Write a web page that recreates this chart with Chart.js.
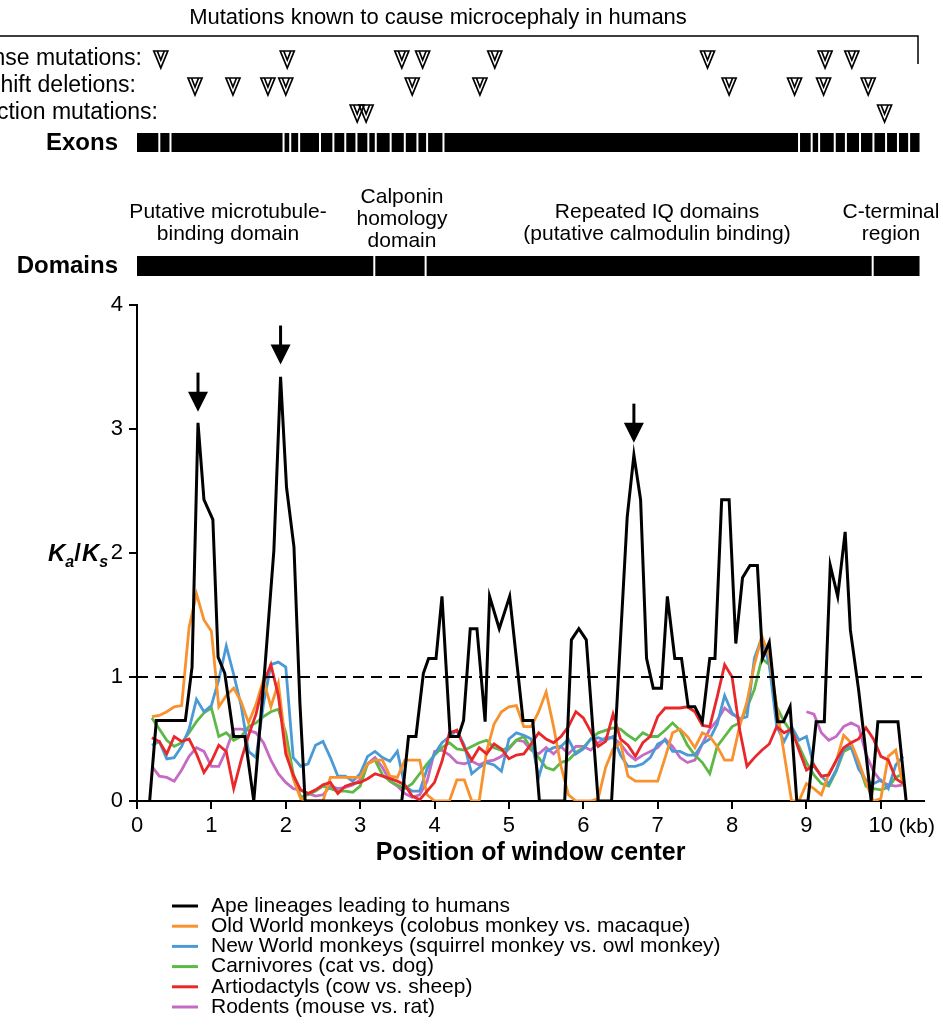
<!DOCTYPE html>
<html>
<head>
<meta charset="utf-8">
<script src="https://cdn.jsdelivr.net/npm/chart.js@4.4.1/dist/chart.umd.min.js"></script>
<style>
  html, body { margin: 0; padding: 0; background: #fff; }
</style>
</head>
<body>
<canvas id="kaks-canvas" width="943" height="1027"></canvas>
<script>
const FONT = '"Liberation Sans", Arial, Helvetica, sans-serif';

// window centres (kb) for the five comparison lineages
const windowCenters = [0.2, 0.3, 0.4, 0.5, 0.6, 0.7, 0.8, 0.9, 1.0,
    1.1, 1.2, 1.3, 1.4, 1.5, 1.6, 1.7, 1.8, 1.9, 2.0,
    2.1, 2.2, 2.3, 2.4, 2.5, 2.6, 2.7, 2.8, 2.9, 3.0,
    3.1, 3.2, 3.3, 3.4, 3.5, 3.6, 3.7, 3.8, 3.9, 4.0,
    4.1, 4.2, 4.3, 4.4, 4.5, 4.6, 4.7, 4.8, 4.9, 5.0,
    5.1, 5.2, 5.3, 5.4, 5.5, 5.6, 5.7, 5.8, 5.9, 6.0,
    6.1, 6.2, 6.3, 6.4, 6.5, 6.6, 6.7, 6.8, 6.9, 7.0,
    7.1, 7.2, 7.3, 7.4, 7.5, 7.6, 7.7, 7.8, 7.9, 8.0,
    8.1, 8.2, 8.3, 8.4, 8.5, 8.6, 8.7, 8.8, 8.9, 9.0,
    9.1, 9.2, 9.3, 9.4, 9.5, 9.6, 9.7, 9.8, 9.9, 10.0,
    10.1, 10.2, 10.3];

const oldWorldKaKs = [0.68, 0.69, 0.72, 0.76, 0.77, 1.40, 1.67, 1.46, 1.37,
    0.76, 0.85, 0.91, 0.80, 0.63, 0.78, 0.98, 0.76, 0.95, 0.45,
    0.18, 0.02, 0.00, 0.00, 0.00, 0.19, 0.19, 0.19, 0.19, 0.19,
    0.30, 0.33, 0.33, 0.20, 0.19, 0.33, 0.33, 0.33, 0.05, 0.00,
    0.00, 0.00, 0.17, 0.17, 0.00, 0.00, 0.40, 0.62, 0.72, 0.76,
    0.77, 0.60, 0.60, 0.72, 0.88, 0.60, 0.28, 0.05, 0.00, 0.00,
    0.00, 0.02, 0.27, 0.42, 0.47, 0.20, 0.16, 0.16, 0.16, 0.16,
    0.35, 0.55, 0.58, 0.52, 0.43, 0.55, 0.52, 0.44, 0.33, 0.33,
    0.60, 0.80, 1.10, 1.33, 1.17, 0.76, 0.38, 0.00, 0.00, 0.14,
    0.10, 0.05, 0.22, 0.32, 0.53, 0.47, 0.32, 0.15, 0.00, 0.02,
    0.36, 0.41, 0.12];

const newWorldKaKs = [0.45, 0.48, 0.34, 0.35, 0.44, 0.58, 0.82, 0.72, 0.77,
    0.98, 1.25, 1.02, 0.77, 0.40, 0.35, 0.78, 1.10, 1.12, 1.08,
    0.35, 0.28, 0.30, 0.45, 0.48, 0.35, 0.20, 0.20, 0.16, 0.22,
    0.36, 0.40, 0.35, 0.32, 0.40, 0.12, 0.08, 0.08, 0.26, 0.38,
    0.47, 0.52, 0.57, 0.45, 0.22, 0.27, 0.31, 0.29, 0.24, 0.50,
    0.55, 0.53, 0.50, 0.19, 0.40, 0.43, 0.44, 0.50, 0.38, 0.42,
    0.50, 0.51, 0.49, 0.52, 0.37, 0.28, 0.28, 0.30, 0.35, 0.46,
    0.49, 0.40, 0.40, 0.37, 0.37, 0.46, 0.50, 0.62, 0.85, 0.71,
    0.66, 0.68, 1.15, 1.32, 1.10, 0.60, 0.48, 0.60, 0.49, 0.52,
    0.28, 0.20, 0.14, 0.25, 0.42, 0.44, 0.26, 0.17, 0.14, 0.17,
    0.10, 0.29, 0.36];

const carnivoreKaKs = [0.67, 0.58, 0.49, 0.44, 0.47, 0.55, 0.64, 0.71, 0.75,
    0.52, 0.55, 0.49, 0.52, 0.60, 0.63, 0.68, 0.72, 0.74, 0.55,
    0.22, 0.03, 0.05, 0.08, 0.12, 0.10, 0.08, 0.08, 0.07, 0.12,
    0.30, 0.33, 0.21, 0.16, 0.13, 0.10, 0.14, 0.22, 0.30, 0.37,
    0.43, 0.47, 0.42, 0.41, 0.44, 0.47, 0.49, 0.43, 0.41, 0.43,
    0.49, 0.52, 0.42, 0.35, 0.27, 0.25, 0.31, 0.33, 0.39, 0.43,
    0.50, 0.55, 0.57, 0.59, 0.58, 0.53, 0.49, 0.55, 0.52, 0.52,
    0.57, 0.63, 0.57, 0.45, 0.37, 0.31, 0.22, 0.44, 0.52, 0.60,
    0.63, 0.75, 0.90, 1.15, 1.10, 0.76, 0.64, 0.55, 0.44, 0.31,
    0.21, 0.14, 0.12, 0.24, 0.40, 0.43, 0.30, 0.12, 0.10, 0.09,
    0.11, 0.19, 0.22];

const artiodactylKaKs = [0.51, 0.48, 0.38, 0.52, 0.48, 0.50, 0.38, 0.23, 0.32,
    0.45, 0.40, 0.10, 0.33, 0.53, 0.70, 0.95, 1.10, 0.85, 0.38,
    0.21, 0.09, 0.06, 0.09, 0.13, 0.15, 0.06, 0.12, 0.14, 0.15,
    0.18, 0.22, 0.20, 0.18, 0.16, 0.13, 0.04, 0.01, 0.08, 0.15,
    0.32, 0.55, 0.57, 0.43, 0.33, 0.43, 0.38, 0.46, 0.42, 0.34,
    0.37, 0.38, 0.46, 0.55, 0.50, 0.47, 0.52, 0.60, 0.72, 0.67,
    0.56, 0.44, 0.48, 0.70, 0.50, 0.45, 0.36, 0.47, 0.52, 0.68,
    0.75, 0.75, 0.75, 0.76, 0.72, 0.61, 0.60, 0.84, 1.10, 1.00,
    0.58, 0.28, 0.35, 0.41, 0.46, 0.60, 0.55, 0.58, 0.41, 0.25,
    0.29, 0.20, 0.21, 0.33, 0.43, 0.47, 0.50, 0.59, 0.50, 0.36,
    0.33, 0.18, 0.14];

const rodentKaKs = [0.28, 0.20, 0.19, 0.16, 0.25, 0.36, 0.43, 0.40, 0.28,
    0.28, 0.41, 0.58, 0.58, 0.57, 0.55, 0.47, 0.33, 0.22, 0.15,
    0.10, 0.09, 0.06, 0.04, 0.05, 0.12, 0.10, 0.11, 0.13, 0.17,
    0.30, 0.35, 0.27, 0.16, 0.12, 0.06, 0.03, 0.05, 0.16, 0.40,
    0.41, 0.37, 0.31, 0.30, 0.32, 0.29, 0.32, 0.33, 0.36, 0.42,
    0.49, 0.48, 0.41, 0.38, 0.43, 0.38, 0.44, 0.38, 0.44, 0.44,
    0.41, 0.47, 0.51, 0.51, 0.46, 0.38, 0.33, 0.37, 0.40, 0.43,
    0.50, 0.44, 0.35, 0.31, 0.33, 0.46, 0.58, 0.65, 0.75, 0.70,
    0.67, null, null, null, null, null, null, null, null, 0.72,
    0.70, 0.55, 0.49, 0.52, 0.60, 0.63, 0.60, 0.38, 0.24, 0.16,
    0.13, 0.12, 0.13];

// ape lineage has its own window positions
const apeX = [0.17, 0.26, 0.65, 0.74, 0.82, 0.90, 0.96, 1.02, 1.09, 1.18,
    1.30, 1.45, 1.57, 1.72, 1.84, 1.93, 2.01, 2.11, 2.19, 2.26,
    3.56, 3.65, 3.75, 3.85, 3.92, 4.02, 4.10, 4.21, 4.32, 4.39,
    4.48, 4.57, 4.68, 4.74, 4.87, 5.01, 5.19, 5.32, 5.41, 5.75,
    5.84, 5.94, 6.04, 6.20, 6.38, 6.59, 6.68, 6.77, 6.85, 6.94,
    7.05, 7.13, 7.23, 7.32, 7.41, 7.50, 7.60, 7.70, 7.77, 7.86,
    7.96, 8.05, 8.14, 8.24, 8.34, 8.41, 8.50, 8.61, 8.69, 8.78,
    8.87, 9.02, 9.13, 9.24, 9.32, 9.42, 9.52, 9.59, 9.70, 9.78,
    9.87, 9.96, 10.23, 10.34];
const apeKaKs = [0, 0.65, 0.65, 1.08, 3.05, 2.43, 2.35, 2.27, 1.16, 1.03,
    0.52, 0.52, 0, 1.08, 2.02, 3.42, 2.53, 2.05, 0.79, 0,
    0, 0.52, 0.52, 1.03, 1.15, 1.15, 1.65, 0.52, 0.52, 0.65,
    1.39, 1.39, 0.64, 1.65, 1.39, 1.65, 0.65, 0.65, 0, 0,
    1.30, 1.39, 1.30, 0, 0, 2.29, 2.79, 2.43, 1.15, 0.91,
    0.91, 1.65, 1.15, 1.15, 0.76, 0.76, 0.64, 1.15, 1.15, 2.43,
    2.43, 1.27, 1.80, 1.90, 1.90, 1.15, 1.28, 0.64, 0.64, 0.76,
    0, 0, 0.64, 0.64, 1.90, 1.65, 2.17, 1.38, 0.90, 0.49,
    0, 0.64, 0.64, 0];

// gene map (kb)
const missensePos = [0.32, 2.02, 3.56, 3.84, 4.81, 7.67, 9.25, 9.61];
const frameshiftPos = [0.78, 1.29, 1.76, 2.00, 3.70, 4.61, 7.96, 8.84, 9.23, 9.83];
const splicePos = [2.96, 3.08, 10.05];
const exonBoundaries = [0.30, 0.45, 1.97, 2.06, 2.18, 2.46, 2.64, 2.80, 2.95, 3.11,
    3.21, 3.41, 3.60, 3.77, 3.90, 4.12, 8.90, 9.07, 9.17, 9.38,
    9.53, 9.72, 9.90, 10.07, 10.23, 10.38];
const domainBoundaries = [3.19, 3.88, 9.89];
const geneEnd = 10.52;
const xMax = 10.58;
const neutralRatio = 1;

// positively selected peaks marked with arrows
const arrowPeaks = [0.82, 1.93, 6.68];
const arrowTips = [3.14, 3.52, 2.89];

const seriesLabels = [
    'Ape lineages leading to humans',
    'Old World monkeys (colobus monkey vs. macaque)',
    'New World monkeys (squirrel monkey vs. owl monkey)',
    'Carnivores (cat vs. dog)',
    'Artiodactyls (cow vs. sheep)',
    'Rodents (mouse vs. rat)'
];
const seriesColors = ['#000000', '#f7922e', '#4b9ad6', '#5cb946', '#e8282b', '#c56bc4'];

function toPoints(xs, ys) {
    return xs.map((x, i) => ({ x: x, y: ys[i] }));
}

const lineage = [oldWorldKaKs, newWorldKaKs, carnivoreKaKs, artiodactylKaKs, rodentKaKs];

const datasets = [{
    label: seriesLabels[0],
    data: toPoints(apeX, apeKaKs),
    borderColor: seriesColors[0],
    borderWidth: 3,
}, {
    label: 'neutral',
    data: [{ x: 0, y: neutralRatio }, { x: xMax, y: neutralRatio }],
    borderColor: '#000',
    borderWidth: 2,
    borderDash: [11, 7],
}];
// red drawn above the others, as in the figure
[3, 0, 1, 2, 4].forEach((k) => {
    datasets.push({
        label: seriesLabels[k + 1],
        data: toPoints(windowCenters, lineage[k]),
        borderColor: seriesColors[k + 1],
        borderWidth: 2.8,
    });
});

function drawTriangle(ctx, x, y) {
    ctx.beginPath();
    ctx.moveTo(x - 7, y - 8);
    ctx.lineTo(x + 7, y - 8);
    ctx.lineTo(x, y + 9);
    ctx.closePath();
    ctx.stroke();
    ctx.beginPath();
    ctx.moveTo(x - 3.5, y - 8);
    ctx.lineTo(x, y + 1);
    ctx.lineTo(x + 3.5, y - 8);
    ctx.stroke();
}

function drawBar(ctx, xs, top, height, gaps) {
    const left = xs.getPixelForValue(0);
    const right = xs.getPixelForValue(geneEnd);
    ctx.fillStyle = '#000';
    ctx.fillRect(left, top, right - left, height);
    ctx.fillStyle = '#fff';
    gaps.forEach((g) => ctx.fillRect(xs.getPixelForValue(g) - 1, top, 2, height));
}

const figurePlugin = {
    id: 'figurePlugin',
    beforeDraw(chart) {
        const ctx = chart.ctx;
        const xs = chart.scales.x;
        ctx.save();
        ctx.fillStyle = '#fff';
        ctx.fillRect(0, 0, chart.width, chart.height);

        ctx.fillStyle = '#000';
        ctx.strokeStyle = '#000';
        ctx.textBaseline = 'middle';
        ctx.font = '22px ' + FONT;
        ctx.textAlign = 'center';
        ctx.fillText('Mutations known to cause microcephaly in humans', 438, 18);

        ctx.lineWidth = 1.5;
        ctx.beginPath();
        ctx.moveTo(0, 36);
        ctx.lineTo(918, 36);
        ctx.lineTo(918, 64);
        ctx.stroke();

        const rows = [
            { text: 'Missense mutations:', right: 142, y: 59, pos: missensePos },
            { text: 'Frameshift deletions:', right: 136, y: 86, pos: frameshiftPos },
            { text: 'Splice junction mutations:', right: 158, y: 113, pos: splicePos },
        ];
        ctx.font = '23px ' + FONT;
        rows.forEach((r) => {
            ctx.fillStyle = '#000';
            ctx.textAlign = 'right';
            ctx.fillText(r.text, r.right, r.y);
            ctx.lineWidth = 1.7;
            r.pos.forEach((p) => drawTriangle(ctx, xs.getPixelForValue(p), r.y));
        });

        drawBar(ctx, xs, 133, 19, exonBoundaries);
        drawBar(ctx, xs, 256, 20, domainBoundaries);

        ctx.fillStyle = '#000';
        ctx.font = 'bold 24px ' + FONT;
        ctx.textAlign = 'right';
        ctx.fillText('Exons', 118, 143);
        ctx.fillText('Domains', 118, 266);

        ctx.font = '21px ' + FONT;
        ctx.textAlign = 'center';
        const domainLabels = [
            { x: 228, lines: ['Putative microtubule-', 'binding domain'], y: 212 },
            { x: 402, lines: ['Calponin', 'homology', 'domain'], y: 197 },
            { x: 657, lines: ['Repeated IQ domains', '(putative calmodulin binding)'], y: 212 },
            { x: 891, lines: ['C-terminal', 'region'], y: 212 },
        ];
        domainLabels.forEach((d) => {
            d.lines.forEach((t, i) => ctx.fillText(t, d.x, d.y + i * 22));
        });
        ctx.restore();
    },
    afterDatasetsDraw(chart) {
        const ctx = chart.ctx;
        const xs = chart.scales.x;
        const ys = chart.scales.y;
        ctx.save();
        ctx.fillStyle = '#000';
        ctx.strokeStyle = '#000';
        arrowPeaks.forEach((p, i) => {
            const px = xs.getPixelForValue(p);
            const tip = ys.getPixelForValue(arrowTips[i]);
            ctx.lineWidth = 3;
            ctx.beginPath();
            ctx.moveTo(px, tip - 39);
            ctx.lineTo(px, tip - 15);
            ctx.stroke();
            ctx.beginPath();
            ctx.moveTo(px - 10, tip - 20);
            ctx.lineTo(px + 10, tip - 20);
            ctx.lineTo(px, tip);
            ctx.closePath();
            ctx.fill();
        });
        ctx.restore();
    },
    afterDraw(chart) {
        const ctx = chart.ctx;
        const xs = chart.scales.x;
        ctx.save();
        ctx.fillStyle = '#000';
        ctx.textBaseline = 'alphabetic';
        ctx.textAlign = 'left';

        // y-axis label K_a / K_s
        const big = 'italic bold 24px ' + FONT;
        const small = 'italic bold 16px ' + FONT;
        const parts = [['K', big, 0], ['a', small, 6], ['/', 'bold 24px ' + FONT, 0], ['K', big, 0], ['s', small, 6]];
        let cx = 48;
        parts.forEach(([t, f, dy]) => {
            ctx.font = f;
            ctx.fillText(t, cx, 561 + dy);
            cx += ctx.measureText(t).width + (t === '/' ? 1 : 0);
        });

        ctx.font = '21px ' + FONT;
        ctx.textBaseline = 'middle';
        ctx.fillText('(kb)', xs.getPixelForValue(10) + 18, 827);

        // legend
        seriesLabels.forEach((label, i) => {
            const y = 906 + i * 20.2;
            ctx.strokeStyle = seriesColors[i];
            ctx.lineWidth = 3;
            ctx.beginPath();
            ctx.moveTo(172, y);
            ctx.lineTo(198, y);
            ctx.stroke();
            ctx.fillStyle = '#000';
            ctx.font = '21px ' + FONT;
            ctx.fillText(label, 211, y);
        });
        ctx.restore();
    }
};

const axisLine = { display: true, color: '#000', width: 2 };
const tickMarks = { drawOnChartArea: false, drawTicks: true, tickLength: 8, color: '#000', lineWidth: 2 };

new Chart(document.getElementById('kaks-canvas'), {
    type: 'line',
    data: { datasets: datasets },
    plugins: [figurePlugin],
    options: {
        responsive: false,
        animation: false,
        events: [],
        layout: { padding: { top: 305, left: 0, right: 19, bottom: 0 } },
        elements: {
            point: { radius: 0 },
            line: { tension: 0, fill: false, borderCapStyle: 'butt', borderJoinStyle: 'miter' }
        },
        plugins: {
            legend: { display: false },
            tooltip: { enabled: false }
        },
        scales: {
            x: {
                type: 'linear',
                min: 0,
                max: xMax,
                afterFit: (scale) => { scale.height = 226; },
                grid: tickMarks,
                border: axisLine,
                ticks: {
                    stepSize: 1,
                    includeBounds: false,
                    color: '#000',
                    padding: 4,
                    maxRotation: 0,
                    font: { family: FONT, size: 22 }
                },
                title: {
                    display: true,
                    text: 'Position of window center',
                    color: '#000',
                    font: { family: FONT, size: 25, weight: 'bold' },
                    padding: { top: 0, bottom: 159 }
                }
            },
            y: {
                min: 0,
                max: 4,
                afterFit: (scale) => { scale.width = 137; },
                grid: tickMarks,
                border: axisLine,
                ticks: {
                    stepSize: 1,
                    color: '#000',
                    padding: 6,
                    font: { family: FONT, size: 22 }
                }
            }
        }
    }
});
</script>
</body>
</html>
